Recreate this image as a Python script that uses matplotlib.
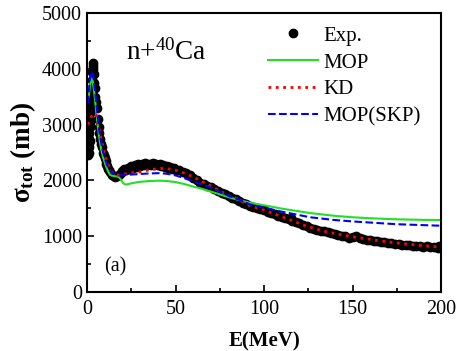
import numpy as np
import matplotlib
matplotlib.use("Agg")
import matplotlib.pyplot as plt

plt.rcParams["font.family"] = ["Liberation Serif", "DejaVu Serif"]
plt.rcParams["mathtext.fontset"] = "custom"
plt.rcParams["mathtext.rm"] = "Liberation Serif"
plt.rcParams["mathtext.it"] = "Liberation Serif:italic"
plt.rcParams["mathtext.bf"] = "Liberation Serif:bold"

exp_E = [0.6, 0.7, 0.8, 0.9, 1.0, 1.1, 1.2, 1.3, 1.4, 1.5, 1.6, 1.7, 1.8, 1.9, 2.0,
         2.2, 2.4, 2.6, 2.8, 3.0, 3.2, 3.4, 3.6, 3.8, 4.0, 4.3, 4.6, 5.0, 5.5, 6.0,
         6.5, 7.0, 7.5, 8.0, 8.5, 9.0, 9.5, 10, 10.5, 11, 11.5, 12, 12.5, 13, 14,
         15, 16, 17, 18, 19, 20, 21, 22, 23, 24, 25, 26, 27, 28, 29, 30, 31, 32,
         33, 34, 35, 36, 37, 38, 39, 40, 41, 42, 43, 44, 45, 46, 47, 48, 49, 50,
         52, 54, 56, 58, 60, 62, 64, 66, 68, 70, 72, 74, 76, 78, 80, 82, 84, 86,
         88, 90, 92, 94, 96, 98, 100, 102, 104, 106, 108, 110, 112, 114, 115, 116,
         118, 120, 122, 124, 126, 128, 130, 132, 134, 136, 138, 140, 142, 144, 146,
         148, 150, 152, 154, 156, 158, 160, 162, 164, 166, 168, 170, 172, 174, 176,
         178, 180, 182, 184, 186, 188, 190, 192, 194, 196, 198, 199]
exp_sig = [2450, 2650, 2900, 2600, 3000, 2750, 3100, 2850, 2500, 3200, 2950, 3300, 2700, 3050, 3400,
           3250, 3600, 3450, 3800, 3950, 4050, 4100, 4000, 3900, 3750, 3650, 3500, 3400, 3300, 3100,
           2950, 2850, 2750, 2650, 2600, 2500, 2450, 2400, 2350, 2300, 2250, 2200, 2180, 2150, 2100,
           2080, 2070, 2080, 2100, 2130, 2160, 2200, 2180, 2230, 2200, 2250, 2230, 2270, 2240, 2290,
           2260, 2300, 2270, 2310, 2280, 2300, 2270, 2310, 2280, 2300, 2270, 2290, 2260, 2270, 2240,
           2260, 2230, 2240, 2210, 2220, 2190,
           2180, 2150, 2130, 2090, 2040, 2000, 1960, 1930, 1900, 1880, 1850, 1810, 1780, 1750, 1720,
           1690, 1660, 1630, 1600, 1580, 1550, 1530, 1510, 1490, 1470, 1440, 1420, 1390, 1370, 1340,
           1320, 1300, 1330, 1280, 1250, 1230, 1200, 1180, 1150, 1130, 1120, 1100, 1090, 1070, 1060,
           1040, 1030, 1010, 1000, 970, 990, 1010, 970, 950, 940, 930, 920, 910, 900, 890, 880, 870,
           860, 860, 850, 840, 835, 830, 830, 820, 815, 830, 810, 800, 790, 820]

# MOP
mop_E = [1, 1.5, 2, 2.6, 3.2, 4, 5, 6, 7, 8, 9, 10, 11, 12, 13, 14, 16, 18, 19, 20, 21,
         22, 24, 27, 30, 35, 40, 45, 50, 55, 60, 64, 70, 80, 85, 92, 100, 110, 126, 140,
         150, 160, 175, 190, 200]
mop_sig = [3500, 3650, 3750, 3830, 3780, 3600, 3300, 3000, 2750, 2550, 2420, 2320, 2230,
           2160, 2100, 2085, 2075, 2060, 2020, 1970, 1935, 1925, 1940, 1960, 1975, 1988,
           1995, 1990, 1970, 1935, 1890, 1858, 1800, 1700, 1655, 1600, 1555, 1495, 1415,
           1365, 1340, 1322, 1303, 1293, 1290]

# KD
kd_E = [0.5, 1, 2, 3, 4, 5, 6, 7, 8, 9, 10, 11, 12, 13, 14, 16, 18, 20, 22, 25, 30, 35,
        41, 45, 50, 55, 60, 64, 70, 80, 85, 92, 100, 110, 124, 135, 150, 165, 175, 190, 200]
kd_sig = [3000, 3050, 3120, 3170, 3200, 3180, 3050, 2900, 2750, 2600, 2470, 2360, 2270,
          2200, 2150, 2100, 2095, 2105, 2120, 2135, 2150, 2190, 2215, 2210, 2185, 2130,
          2065, 1995, 1900, 1725, 1670, 1545, 1470, 1350, 1180, 1080, 990, 920, 880, 830, 805]

# MOP(SKP)
skp_E = [0.6, 1, 1.5, 2, 2.6, 3.2, 4, 5, 6, 7, 8, 9, 10, 11, 12, 13, 14, 16, 18, 20, 22,
         25, 30, 35, 41, 45, 50, 55, 60, 64, 70, 80, 85, 92, 100, 110, 126, 140, 150, 175, 200]
skp_sig = [3380, 3600, 3780, 3880, 3950, 3920, 3750, 3450, 3150, 2880, 2680, 2520, 2400,
           2300, 2230, 2180, 2150, 2110, 2090, 2095, 2100, 2105, 2115, 2125, 2130, 2120,
           2090, 2040, 1980, 1940, 1870, 1725, 1665, 1570, 1510, 1440, 1340, 1290, 1265,
           1215, 1188]

fig = plt.figure(figsize=(4.58, 3.51), dpi=100)
ax = fig.add_axes([0.19, 0.168, 0.773, 0.795])

ax.plot(exp_E, exp_sig, "o", color="black", markersize=6, label="Exp.")
ax.plot(mop_E, mop_sig, "-", color="#22e022", linewidth=1.5, label="MOP")
ax.plot(kd_E, kd_sig, ":", color="red", linewidth=2, label="KD")
ax.plot(skp_E, skp_sig, "--", color="blue", linewidth=1.5, label="MOP(SKP)")

ax.set_xlim(0, 200)
ax.set_ylim(0, 5000)
ax.set_xticks([0, 50, 100, 150, 200])
ax.set_xticks([25, 75, 125, 175], minor=True)
ax.set_yticks([0, 1000, 2000, 3000, 4000, 5000])
ax.set_yticks([500, 1500, 2500, 3500, 4500], minor=True)
ax.tick_params(which="both", direction="in", labelsize=14.5, width=1.2)
ax.tick_params(which="major", length=5)
ax.tick_params(which="minor", length=3)
ax.tick_params(axis="x", pad=6)
for s in ax.spines.values():
    s.set_linewidth(1.5)

ax.set_xlabel("E(MeV)", fontsize=15, fontweight="bold", labelpad=9)
ax.set_ylabel(r"$\mathbf{\sigma_{tot}}$ (mb)", fontsize=19.5, fontweight="bold", labelpad=3)

ax.text(45, 4300, r"n+$^{40}$Ca", fontsize=19.5, ha="center", va="center")
ax.text(16, 450, "(a)", fontsize=14.5, ha="center", va="center")

ax.legend(loc="upper right", frameon=False, fontsize=15, handlelength=2.4,
          labelspacing=0.35, handletextpad=0.25, borderaxespad=0.5,
          bbox_to_anchor=(0.995, 1.02))

fig.savefig("out.png", dpi=100)
